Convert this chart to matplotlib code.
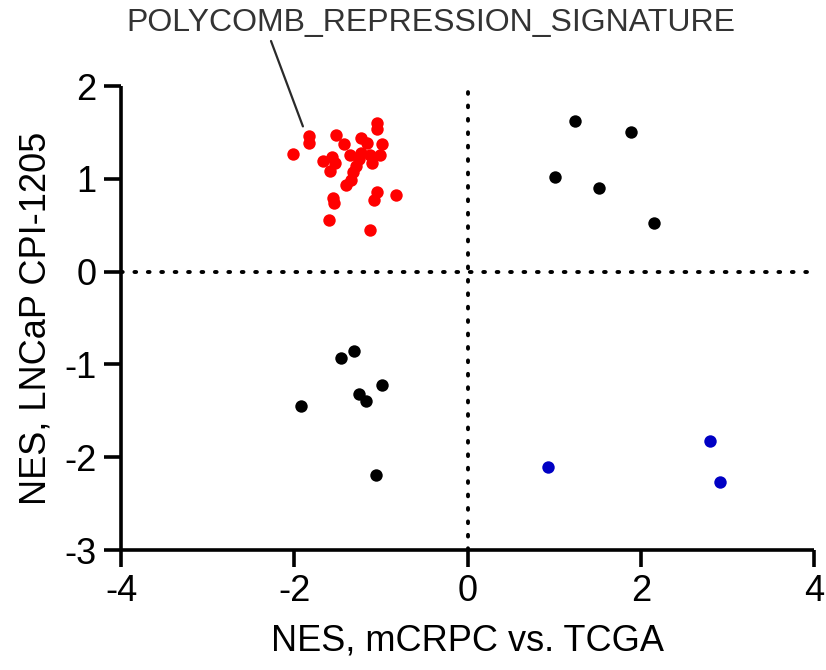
import matplotlib
matplotlib.use("Agg")
import matplotlib.pyplot as plt

plt.rcParams['font.family'] = ['Liberation Sans', 'DejaVu Sans']

# Gene sets enriched in the PRC2 / polycomb group (down in mCRPC, up in LNCaP)
red_x = [-2.02, -1.83, -1.83, -1.52, -1.43, -1.04, -1.04, -1.23, -1.16, -0.99,
         -1.01, -1.67, -1.56, -1.53, -1.59, -1.36, -1.23, -1.13, -1.10, -1.25,
         -1.29, -1.32, -1.34, -1.40, -1.05, -1.08, -0.82, -1.55, -1.54, -1.60,
         -1.12]
red_y = [1.27, 1.46, 1.39, 1.47, 1.38, 1.60, 1.54, 1.44, 1.39, 1.37,
         1.26, 1.19, 1.23, 1.17, 1.08, 1.26, 1.28, 1.26, 1.17, 1.21,
         1.14, 1.07, 0.99, 0.93, 0.86, 0.77, 0.83, 0.79, 0.74, 0.56,
         0.45]

# Other gene sets
black_x = [1.24, 1.89, 1.01, 1.52, 2.15,
           -1.92, -1.46, -1.31, -0.99, -1.25, -1.17, -1.06]
black_y = [1.62, 1.51, 1.02, 0.90, 0.52,
           -1.45, -0.93, -0.86, -1.22, -1.32, -1.39, -2.19]

blue_x = [0.93, 2.80, 2.92]
blue_y = [-2.11, -1.82, -2.27]

x_ticks = [-4, -2, 0, 2, 4]
y_ticks = [-3, -2, -1, 0, 1, 2]

fig = plt.figure(figsize=(8.26, 6.70), dpi=100)
ax = fig.add_axes([0.1465, 0.179, 0.8390, 0.6926])

dot = (0, (0.45, 3.0))
ax.axvline(0, color='black', lw=2.8, ls=dot, dash_capstyle='round', zorder=1)
ax.axhline(0, color='black', lw=2.8, ls=dot, dash_capstyle='round', zorder=1)

ms = 80
ax.scatter(black_x, black_y, s=ms, color='black', linewidths=0, zorder=3)
ax.scatter(blue_x, blue_y, s=ms, color='#0000c4', linewidths=0, zorder=3)
ax.scatter(red_x, red_y, s=ms, color='#ff0000', linewidths=0, zorder=3)

ax.set_xlim(-4, 4)
ax.set_ylim(-3, 2)
ax.set_xticks(x_ticks)
ax.set_yticks(y_ticks)
ax.set_xticklabels([str(t) for t in x_ticks])
ax.set_yticklabels([str(t) for t in y_ticks])

for side in ('top', 'right'):
    ax.spines[side].set_visible(False)
for side in ('left', 'bottom'):
    ax.spines[side].set_linewidth(2.6)
    ax.spines[side].set_capstyle('butt')

ax.tick_params(axis='both', which='major', direction='out', length=12.5,
               width=2.6, labelsize=26, colors='black', pad=5)

ax.set_xlabel('NES, mCRPC vs. TCGA', fontsize=26, labelpad=10)
ax.set_ylabel('NES, LNCaP CPI-1205', fontsize=26, labelpad=8)

# label with a leader line to the signature cluster
fig.text(431, 647, 'POLYCOMB_REPRESSION_SIGNATURE', transform=None,
         ha='center', va='center', fontsize=23, color='#333333')
ax.annotate('', xy=(-1.90, 1.565), xycoords='data',
            xytext=(271, 629), textcoords='figure pixels',
            arrowprops=dict(arrowstyle='-', color='#2a2a2a', lw=1.6,
                            shrinkA=0, shrinkB=0))

fig.savefig('out.png', dpi=100)
